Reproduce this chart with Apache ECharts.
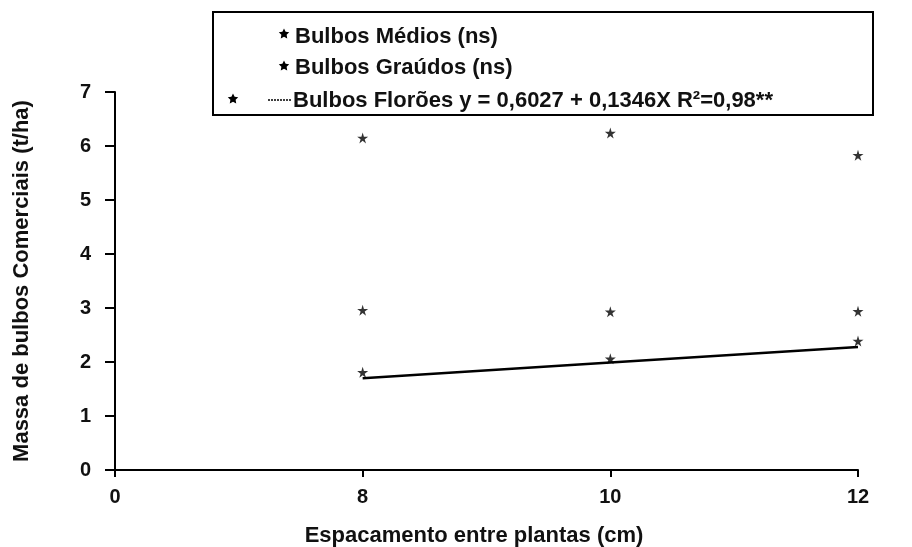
<!DOCTYPE html>
<html>
<head>
<meta charset="utf-8">
<script src="https://cdn.jsdelivr.net/npm/echarts@6/dist/echarts.min.js"></script>
<style>
  html, body { margin: 0; padding: 0; background: #fff; }
  #chart { width: 912px; height: 547px; }
</style>
</head>
<body>
<div id="chart"></div>
<script>
// espacamento (cm) - eixo x
const categories = ['0', '8', '10', '12'];
// massa de bulbos (t/ha)
const medios = [null, 6.15, 6.24, 5.83];
const graudos = [null, 2.96, 2.93, 2.94];
const floroes = [null, 1.81, 2.06, 2.39];
const floroesTrend = [null, 1.70, 1.99, 2.28];
const legendLabels = [
  'Bulbos Médios (ns)',
  'Bulbos Graúdos (ns)',
  'Bulbos Florões y = 0,6027 + 0,1346X R²=0,98**'
];

const star = 'path://M50,0 L61,35 L98,35 L68,57 L79,91 L50,70 L21,91 L32,57 L2,35 L39,35 Z';
const font = 'Liberation Sans, Arial, sans-serif';

// star shaped polygon for the legend box
function starPoints(cx, cy, r) {
  let pts = [];
  for (let i = 0; i < 10; i++) {
    let a = -Math.PI / 2 + i * Math.PI / 5;
    let rr = i % 2 === 0 ? r : r * 0.5;
    pts.push([cx + rr * Math.cos(a), cy + rr * Math.sin(a)]);
  }
  return pts;
}

function legendStar(cx, cy) {
  return {
    type: 'polygon', z: 11,
    shape: { points: starPoints(cx, cy, 5.5) },
    style: { fill: '#000' }
  };
}

function legendText(x, y, txt) {
  return {
    type: 'text', z: 11, x: x, y: y,
    style: { text: txt, fontFamily: font, fontSize: 22, fontWeight: 'bold', fill: '#111', textVerticalAlign: 'middle' }
  };
}

var myChart = echarts.init(document.getElementById('chart'));

var option = {
  backgroundColor: '#fff',
  animation: false,
  grid: { left: 115, right: 54, top: 92, bottom: 77, containLabel: false, outerBoundsMode: 'none' },
  xAxis: {
    type: 'category',
    data: categories,
    boundaryGap: false,
    name: 'Espacamento entre plantas (cm)',
    nameLocation: 'middle',
    nameGap: 55,
    nameTextStyle: { fontFamily: font, fontSize: 22, fontWeight: 'bold', color: '#111', padding: [0, 25, 0, 0] },
    axisLine: { lineStyle: { color: '#000', width: 2 } },
    axisTick: { show: true, inside: false, length: 7, lineStyle: { color: '#000', width: 2 } },
    axisLabel: { fontFamily: font, fontSize: 20, fontWeight: 'bold', color: '#111', margin: 17 },
    splitLine: { show: false }
  },
  yAxis: {
    type: 'value',
    min: 0,
    max: 7,
    interval: 1,
    name: 'Massa de bulbos Comerciais (t/ha)',
    nameLocation: 'middle',
    nameGap: 82,
    nameRotate: 90,
    nameTextStyle: { fontFamily: font, fontSize: 22, fontWeight: 'bold', color: '#111' },
    axisLine: { show: true, lineStyle: { color: '#000', width: 2 } },
    axisTick: { show: true, inside: false, length: 10, lineStyle: { color: '#000', width: 2 } },
    axisLabel: { fontFamily: font, fontSize: 20, fontWeight: 'bold', color: '#111', margin: 24 },
    splitLine: { show: false }
  },
  graphic: [
    {
      type: 'rect',
      shape: { x: 213, y: 12, width: 660, height: 103 },
      style: { fill: '#fff', stroke: '#000', lineWidth: 2 },
      z: 10
    },
    legendStar(284, 34),
    legendText(295, 37, legendLabels[0]),
    legendStar(284, 66),
    legendText(295, 68, legendLabels[1]),
    legendStar(233, 99),
    {
      type: 'line', z: 11,
      shape: { x1: 268, y1: 100, x2: 292, y2: 100 },
      style: { stroke: '#000', lineWidth: 1.5, lineDash: [2, 1] }
    },
    legendText(293, 101, legendLabels[2])
  ],
  series: [
    {
      name: legendLabels[0],
      type: 'scatter',
      data: medios,
      symbol: star,
      symbolSize: 11,
      itemStyle: { color: '#000' }
    },
    {
      name: legendLabels[1],
      type: 'scatter',
      data: graudos,
      symbol: star,
      symbolSize: 11,
      itemStyle: { color: '#000' }
    },
    {
      name: legendLabels[2],
      type: 'scatter',
      data: floroes,
      symbol: star,
      symbolSize: 11,
      itemStyle: { color: '#000' }
    },
    {
      name: 'trend',
      type: 'line',
      data: floroesTrend,
      showSymbol: false,
      symbol: 'none',
      lineStyle: { color: '#000', width: 2.5 }
    }
  ]
};

option && myChart.setOption(option);
</script>
</body>
</html>
